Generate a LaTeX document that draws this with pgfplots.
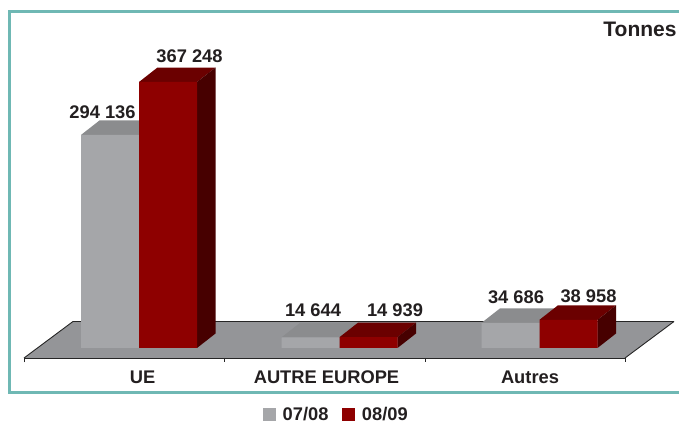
\documentclass[border=0pt]{standalone}
\usepackage{pgfplots}
\pgfplotsset{compat=1.18}
\usepackage{fontspec}
\setmainfont{Liberation Sans}
\definecolor{frameC}{HTML}{6FB8B4}
\definecolor{floorC}{HTML}{949598}
\definecolor{grayF}{HTML}{A5A6A9}
\definecolor{grayT}{HTML}{8B8C8E}
\definecolor{grayS}{HTML}{6B6C6E}
\definecolor{redF}{HTML}{8E0000}
\definecolor{redT}{HTML}{6B0000}
\definecolor{redS}{HTML}{470000}
\definecolor{txt}{HTML}{231F20}
\newcommand{\lab}[1]{\fontsize{18.3}{20}\selectfont\bfseries #1}
\begin{document}
\begin{tikzpicture}
\path[use as bounding box] (0,0) rectangle (679pt,422pt);
\begin{axis}[
  at={(0,0)},anchor=south west,
  scale only axis,width=679pt,height=422pt,
  xmin=0,xmax=679,ymin=-102164.4,ymax=480448.8,
  axis line style={draw=none},
  ytick=\empty,
  xtick={142.5,326.5,530},
  xticklabels={UE,AUTRE EUROPE,Autres},
  xtick style={draw=none},
  xticklabel style={anchor=center,yshift=45pt,text=txt,font=\lab{}},
  legend style={at={(axis cs:336.5,-91500)},anchor=center,draw=none,fill=none,
    inner sep=0pt,legend columns=2,
    font=\lab{},text=txt,
    /tikz/every even column/.style={column sep=11pt},
    legend cell align=left},
]
% frame
\addplot[frameC,line width=3pt,forget plot] coordinates {(690,463882)(9.5,463882)(9.5,-62127)(690,-62127)};
% floor
\addplot[fill=floorC,draw=none,forget plot] coordinates {(24,-13806)(625,-13806)(674,36586)(73,36586)} --cycle;
\addplot[black!85,line width=0.9pt,forget plot] coordinates {(73,36586)(674,36586)};
\addplot[black!85,line width=0.9pt,forget plot] coordinates {(73,36586)(24,-13806)};
\addplot[black!85,line width=0.9pt,forget plot] coordinates {(674,36586)(625,-13806)};
\addplot[black!85,line width=0.9pt,forget plot] coordinates {(24,-20000)(24,-13806)(625,-13806)(625,-20000)};
\addplot[black!85,line width=0.9pt,forget plot] coordinates {(224.5,-13806)(224.5,-20000)};
\addplot[black!85,line width=0.9pt,forget plot] coordinates {(425,-13806)(425,-20000)};
% 07/08 tops and sides
\addplot[fill=grayT,draw=none,forget plot] coordinates {(81,294136)(139,294136)(157.5,314136)(99.5,314136)} --cycle;
\addplot[fill=grayT,draw=none,forget plot] coordinates {(281.5,14644)(339.5,14644)(358,34644)(300,34644)} --cycle;
\addplot[fill=grayT,draw=none,forget plot] coordinates {(481.5,34686)(539.5,34686)(558,54686)(500,54686)} --cycle;
% 07/08 fronts
\addplot[ybar,bar width=58,fill=grayF,draw=none,forget plot] coordinates {(110,294136)(310.5,14644)(510.5,34686)};
% 08/09 tops
\addplot[fill=redT,draw=none,forget plot] coordinates {(139,367248)(197,367248)(215.5,387248)(157.5,387248)} --cycle;
\addplot[fill=redT,draw=none,forget plot] coordinates {(339.5,14939)(397.5,14939)(416,34939)(358,34939)} --cycle;
\addplot[fill=redT,draw=none,forget plot] coordinates {(539.5,38958)(597.5,38958)(616,58958)(558,58958)} --cycle;
% 08/09 sides
\addplot[fill=redS,draw=none,forget plot] coordinates {(197,0)(215.5,20000)(215.5,387248)(197,367248)} --cycle;
\addplot[fill=redS,draw=none,forget plot] coordinates {(397.5,0)(416,20000)(416,34939)(397.5,14939)} --cycle;
\addplot[fill=redS,draw=none,forget plot] coordinates {(597.5,0)(616,20000)(616,58958)(597.5,38958)} --cycle;
% 08/09 fronts
\addplot[ybar,bar width=58,fill=redF,draw=none,forget plot] coordinates {(168,367248)(368.5,14939)(568.5,38958)};
% legend
\addlegendimage{legend image code/.code={\fill[grayF] (0pt,-6pt) rectangle (12pt,6pt);\path (17pt,0pt);}}
\addlegendentry{07/08}
\addlegendimage{legend image code/.code={\fill[redF] (0pt,-6pt) rectangle (12pt,6pt);\path (18pt,0pt);}}
\addlegendentry{08/09}
% labels
\node[text=txt,inner sep=0pt] at (axis cs:102.5,325131) {\lab{294 136}};
\node[text=txt,inner sep=0pt] at (axis cs:189.5,403135) {\lab{367 248}};
\node[text=txt,inner sep=0pt] at (axis cs:313,51500) {\lab{14 644}};
\node[text=txt,inner sep=0pt] at (axis cs:395,51500) {\lab{14 939}};
\node[text=txt,inner sep=0pt] at (axis cs:516,70000) {\lab{34 686}};
\node[text=txt,inner sep=0pt] at (axis cs:588.5,71800) {\lab{38 958}};
\node[text=txt,inner sep=0pt] at (axis cs:640,439721) {\fontsize{21}{24}\selectfont\bfseries Tonnes};
\end{axis}
\end{tikzpicture}
\end{document}
